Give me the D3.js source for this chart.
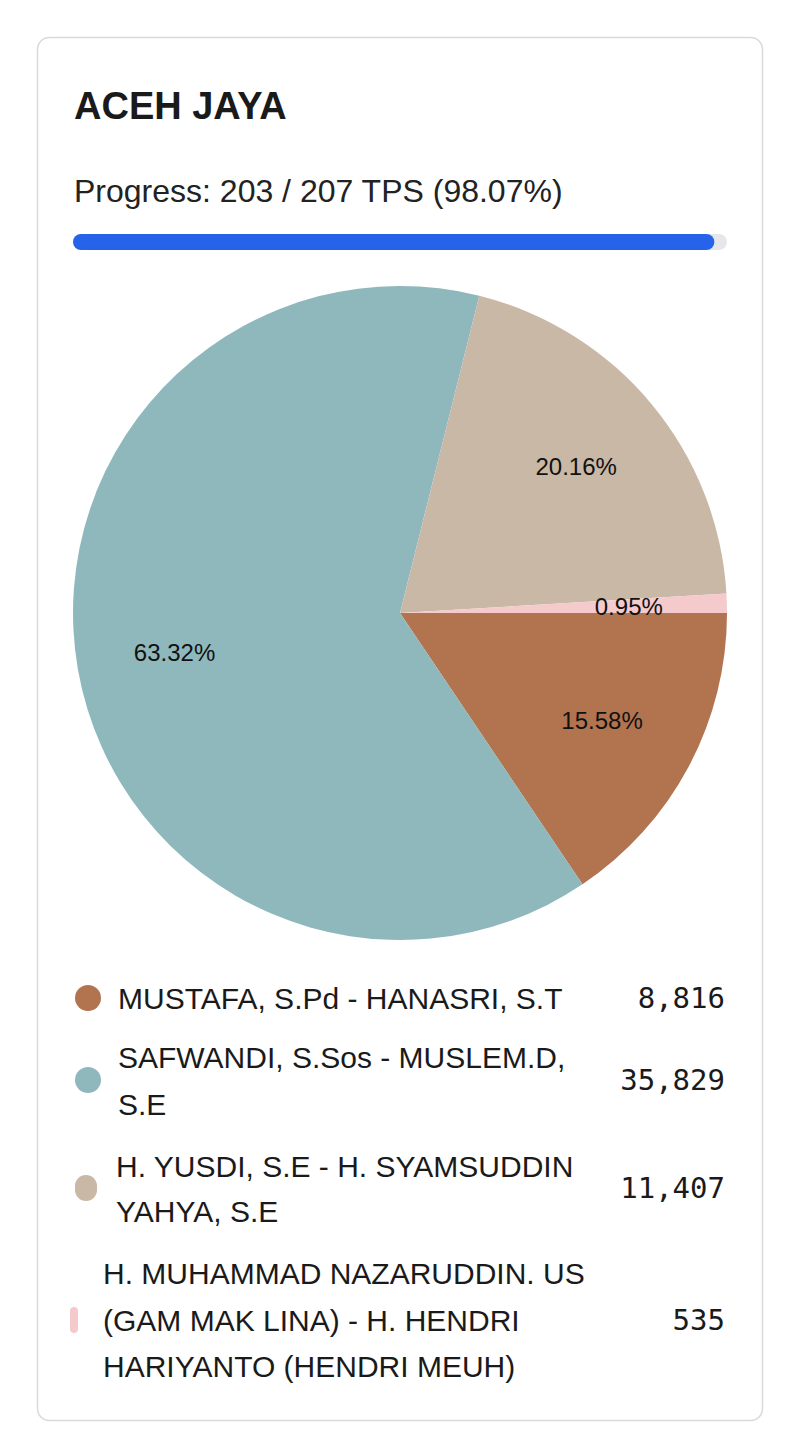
<!DOCTYPE html>
<html><head><meta charset="utf-8">
<script src="https://cdn.jsdelivr.net/npm/d3@7"></script>
<style>
html,body{margin:0;padding:0;background:#fff;}
svg{display:block;}
</style></head>
<body>
<script>
const regionTitle = "ACEH JAYA";
const tpsDone = 203;
const tpsTotal = 207;
const candidates = [
  "MUSTAFA, S.Pd - HANASRI, S.T",
  "SAFWANDI, S.Sos - MUSLEM.D, S.E",
  "H. YUSDI, S.E - H. SYAMSUDDIN YAHYA, S.E",
  "H. MUHAMMAD NAZARUDDIN. US (GAM MAK LINA) - H. HENDRI HARIYANTO (HENDRI MEUH)"
];
const nameLines = [
  ["MUSTAFA, S.Pd - HANASRI, S.T"],
  ["SAFWANDI, S.Sos - MUSLEM.D,", "S.E"],
  ["H. YUSDI, S.E - H. SYAMSUDDIN", "YAHYA, S.E"],
  ["H. MUHAMMAD NAZARUDDIN. US", "(GAM MAK LINA) - H. HENDRI", "HARIYANTO (HENDRI MEUH)"]
];
const votes = [8816, 35829, 11407, 535];
const colors = ["#b2734f", "#8fb8bd", "#c8b8a5", "#f4cacc"];

const W = 800, H = 1451;
const svg = d3.select("body").append("svg").attr("width", W).attr("height", H);
const font = "'Liberation Sans', Arial, Helvetica, sans-serif";

// card
svg.append("rect").attr("x", 37.5).attr("y", 37.5).attr("width", 725).attr("height", 1383)
  .attr("rx", 12).attr("fill", "#fff").attr("stroke", "#d9d9d9").attr("stroke-width", 1.5);

svg.append("text").attr("x", 74).attr("y", 119).attr("font-family", font)
  .attr("font-weight", "bold").attr("font-size", 38).attr("fill", "#1a1a1a").text(regionTitle);

const pct = tpsDone / tpsTotal;
svg.append("text").attr("x", 74).attr("y", 202).attr("font-family", font)
  .attr("font-size", 32).attr("fill", "#222")
  .text(`Progress: ${tpsDone} / ${tpsTotal} TPS (${d3.format(".2f")(pct * 100)}%)`);

const barX = d3.scaleLinear().domain([0, 1]).range([73, 727]);
svg.append("rect").attr("x", barX(0)).attr("y", 234).attr("width", barX(1) - barX(0)).attr("height", 16)
  .attr("rx", 8).attr("fill", "#e5e7eb");
svg.append("rect").attr("x", barX(0)).attr("y", 234).attr("width", barX(pct) - barX(0)).attr("height", 16)
  .attr("rx", 8).attr("fill", "#2563eb");

// pie
const cx = 400, cy = 613, R = 327;
const total = d3.sum(votes);
const pie = d3.pie().sort(null).value(d => d).startAngle(Math.PI / 2).endAngle(Math.PI / 2 + 2 * Math.PI);
const arcs = pie(votes);
const arc = d3.arc().innerRadius(0).outerRadius(R);
const labelArc = d3.arc().innerRadius(R * 0.7).outerRadius(R * 0.7);
const g = svg.append("g").attr("transform", `translate(${cx},${cy})`);
g.selectAll("path").data(arcs).join("path").attr("d", arc).attr("fill", (d, i) => colors[i]);
g.selectAll("text").data(arcs).join("text")
  .attr("transform", d => `translate(${labelArc.centroid(d)})`)
  .attr("text-anchor", "middle").attr("dominant-baseline", "central")
  .attr("font-family", font).attr("font-size", 24).attr("fill", "#111")
  .text(d => d3.format(".2f")(d.value / total * 100) + "%");

// legend
const rows = [
  {cy: 998, tx: 118, mx: 88, mw: 26, mh: 26, lines: [998]},
  {cy: 1080, tx: 118, mx: 88, mw: 26, mh: 26, lines: [1057, 1104]},
  {cy: 1188, tx: 116, mx: 86, mw: 22, mh: 26, lines: [1166, 1211]},
  {cy: 1320, tx: 103, mx: 74, mw: 8, mh: 26, lines: [1273, 1320, 1366]}
];
const fmt = d3.format(",");
const lg = svg.append("g");
rows.forEach((r, i) => {
  lg.append("rect").attr("x", r.mx - r.mw / 2).attr("y", r.cy - r.mh / 2)
    .attr("width", r.mw).attr("height", r.mh).attr("rx", r.mw / 2).attr("ry", Math.min(r.mw, r.mh) / 2)
    .attr("fill", colors[i]);
  nameLines[i].forEach((ln, j) => {
    lg.append("text").attr("x", r.tx).attr("y", r.lines[j]).attr("dominant-baseline", "central")
      .attr("font-family", font).attr("font-size", 30).attr("fill", "#1a1a1a").text(ln);
  });
  lg.append("text").attr("x", 725).attr("y", r.cy).attr("dominant-baseline", "central")
    .attr("text-anchor", "end").attr("font-family", "'DejaVu Sans Mono', monospace")
    .attr("font-size", 29).attr("fill", "#1a1a1a").text(fmt(votes[i]));
});
</script>
</body></html>
